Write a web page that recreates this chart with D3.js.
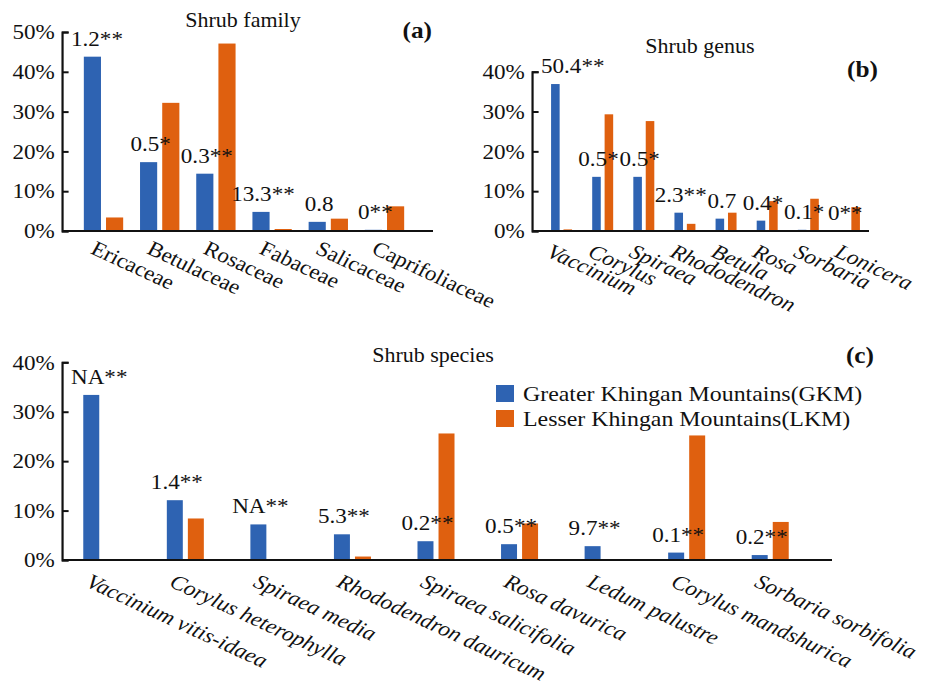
<!DOCTYPE html>
<html><head><meta charset="utf-8">
<script src="https://cdn.jsdelivr.net/npm/d3@7"></script>
<style>body{margin:0;background:#fff} svg{display:block} svg text{font-family:"Liberation Serif","Times New Roman","DejaVu Serif",serif;}</style>
</head><body>
<svg id="chart" width="930" height="687"></svg>
<script>
// ---------- DATA ----------
const seriesNames = ["Greater Khingan Mountains(GKM)", "Lesser Khingan Mountains(LKM)"];

const familyCats   = ["Ericaceae", "Betulaceae", "Rosaceae", "Fabaceae", "Salicaceae", "Caprifoliaceae"];
const familyGKM    = [43.8, 17.3, 14.4, 4.8, 2.3, 0.3];
const familyLKM    = [3.4, 32.2, 47.1, 0.5, 3.1, 6.2];
const familyLabels = ["1.2**", "0.5*", "0.3**", "13.3**", "0.8", "0**"];

const genusCats    = ["Vaccinium", "Corylus", "Spiraea", "Rhododendron", "Betula", "Rosa", "Sorbaria", "Lonicera"];
const genusGKM     = [36.9, 13.6, 13.6, 4.6, 3.1, 2.6, 0.3, 0];
const genusLKM     = [0.4, 29.3, 27.6, 1.8, 4.6, 7.5, 8.1, 6.0];
const genusLabels  = ["50.4**", "0.5*", "0.5*", "2.3**", "0.7", "0.4*", "0.1*", "0**"];

const speciesCats  = ["Vaccinium vitis-idaea", "Corylus heterophylla", "Spiraea media", "Rhododendron dauricum",
                      "Spiraea salicifolia", "Rosa davurica", "Ledum palustre", "Corylus mandshurica", "Sorbaria sorbifolia"];
const speciesGKM   = [33.4, 12.1, 7.2, 5.2, 3.8, 3.2, 2.8, 1.5, 1.0];
const speciesLKM   = [0, 8.4, 0, 0.7, 25.6, 7.4, 0, 25.2, 7.7];
const speciesLabels= ["NA**", "1.4**", "NA**", "5.3**", "0.2**", "0.5**", "9.7**", "0.1**", "0.2**"];

const ticksFamily  = [0, 10, 20, 30, 40, 50];
const ticksGenus   = [0, 10, 20, 30, 40];
const ticksSpecies = [0, 10, 20, 30, 40];

const colors = ["#2e63b2", "#df600f"];

// ---------- LAYOUT ----------
const SX = 1.1; // horizontal stretch of the original figure
const W = 930, H = 687;
const FONT = "Liberation Serif, Times New Roman, DejaVu Serif, serif";
const svg = d3.select("#chart")
  .attr("viewBox", `0 0 ${W / SX} ${H}`)
  .attr("preserveAspectRatio", "none");
const X = v => v / SX;

function txt(sel) { return sel.attr("font-family", FONT).attr("fill", "#111"); }

function panel(cfg) {
  const g = svg.append("g");
  const y = d3.scaleLinear().domain([0, d3.max(cfg.ticks)]).range([cfg.y0, cfg.yTop]);
  const x = d3.scaleBand().domain(cfg.cats).range([X(cfg.band[0]), X(cfg.band[1])])
    .paddingInner(cfg.padIn).paddingOuter(cfg.padIn / 2);
  const xs = d3.scaleBand().domain([0, 1]).range([0, x.bandwidth()]).paddingInner(cfg.subPad);

  const data = cfg.cats.flatMap((c, i) => [
    { c, s: 0, v: cfg.gkm[i] }, { c, s: 1, v: cfg.lkm[i] }
  ]).filter(d => d.v > 0);

  g.selectAll("rect.bar").data(data).join("rect").attr("class", "bar")
    .attr("x", d => x(d.c) + xs(d.s))
    .attr("width", xs.bandwidth())
    .attr("y", d => y(d.v))
    .attr("height", d => y(0) - y(d.v))
    .attr("fill", d => colors[d.s]);

  // y axis
  const yAxis = d3.axisLeft(y).tickValues(cfg.ticks).tickFormat(d => d + "%")
    .tickSizeInner(-6).tickSizeOuter(-6).tickPadding(6.5);
  const ya = g.append("g").attr("transform", `translate(${X(cfg.axisX0)},0)`).call(yAxis);
  ya.attr("font-family", FONT);
  ya.select(".domain").attr("stroke", "#111").attr("stroke-width", 2);
  ya.selectAll(".tick line").attr("stroke", "#111").attr("stroke-width", 2);
  txt(ya.selectAll(".tick text")).attr("font-size", 21);

  // x axis baseline
  g.append("line").attr("x1", X(cfg.axisX0)).attr("x2", X(cfg.axisX1))
    .attr("y1", y(0)).attr("y2", y(0)).attr("stroke", "#111").attr("stroke-width", 2);

  // value labels (kept clear of the y axis)
  const minLeft = X(cfg.axisX0 + 9);
  txt(g.selectAll("text.lbl").data(cfg.cats).join("text").attr("class", "lbl"))
    .attr("y", (c, i) => y(cfg.gkm[i]) - 11)
    .attr("text-anchor", "middle").attr("font-size", 21)
    .text((c, i) => cfg.labels[i])
    .each(function (c) {
      const L = this.getComputedTextLength();
      let cx = x(c) + xs(0) + xs.bandwidth() / 2 + X(2);
      if (cx - L / 2 < minLeft) cx = minLeft + L / 2;
      d3.select(this).attr("x", cx);
    });

  // category labels
  txt(g.selectAll("text.cat").data(cfg.cats).join("text").attr("class", "cat"))
    .attr("transform", c => `translate(${x(c) + x.bandwidth() / 2 - X(cfg.catDx)},${y(0) + cfg.catDy}) rotate(${cfg.rot})`)
    .attr("font-size", 21).attr("font-style", cfg.italic ? "italic" : "normal")
    .text(c => c);

  // title & tag
  txt(g.append("text")).attr("x", X(cfg.titleX)).attr("y", cfg.titleY).attr("text-anchor", "middle")
    .attr("font-size", 20).text(cfg.title);
  txt(g.append("text")).attr("x", X(cfg.tagX)).attr("y", cfg.tagY).attr("text-anchor", "end")
    .attr("font-size", 23).attr("font-weight", "bold").text(cfg.tag);
}

panel({ cats: familyCats, gkm: familyGKM, lkm: familyLKM, labels: familyLabels, ticks: ticksFamily,
  y0: 231, yTop: 32, band: [75.4, 412.6], padIn: 0.3, subPad: 0.227,
  axisX0: 62, axisX1: 433, catDx: 14, catDy: 22, rot: 27, italic: false,
  title: "Shrub family", titleX: 243, titleY: 27, tag: "(a)", tagX: 432, tagY: 38 });

panel({ cats: genusCats, gkm: genusGKM, lkm: genusLKM, labels: genusLabels, ticks: ticksGenus,
  y0: 231, yTop: 71.7, band: [541, 870], padIn: 0.49, subPad: 0.31,
  axisX0: 532, axisX1: 869, catDx: 16, catDy: 25, rot: 27, italic: true,
  title: "Shrub genus", titleX: 700, titleY: 53, tag: "(b)", tagX: 878, tagY: 77 });

panel({ cats: speciesCats, gkm: speciesGKM, lkm: speciesLKM, labels: speciesLabels, ticks: ticksSpecies,
  y0: 560, yTop: 362.3, band: [60, 812], padIn: 0.557, subPad: 0.24,
  axisX0: 62, axisX1: 832, catDx: 17, catDy: 26, rot: 27, italic: true,
  title: "Shrub species", titleX: 433, titleY: 362, tag: "(c)", tagX: 874, tagY: 363 });

// legend
const leg = svg.append("g");
seriesNames.forEach((name, i) => {
  leg.append("rect").attr("x", X(496)).attr("y", 385 + i * 25).attr("width", X(18)).attr("height", 17)
    .attr("fill", colors[i]);
  txt(leg.append("text")).attr("x", X(523)).attr("y", 401 + i * 25).attr("font-size", 21.7).text(name);
});
</script>
</body></html>
